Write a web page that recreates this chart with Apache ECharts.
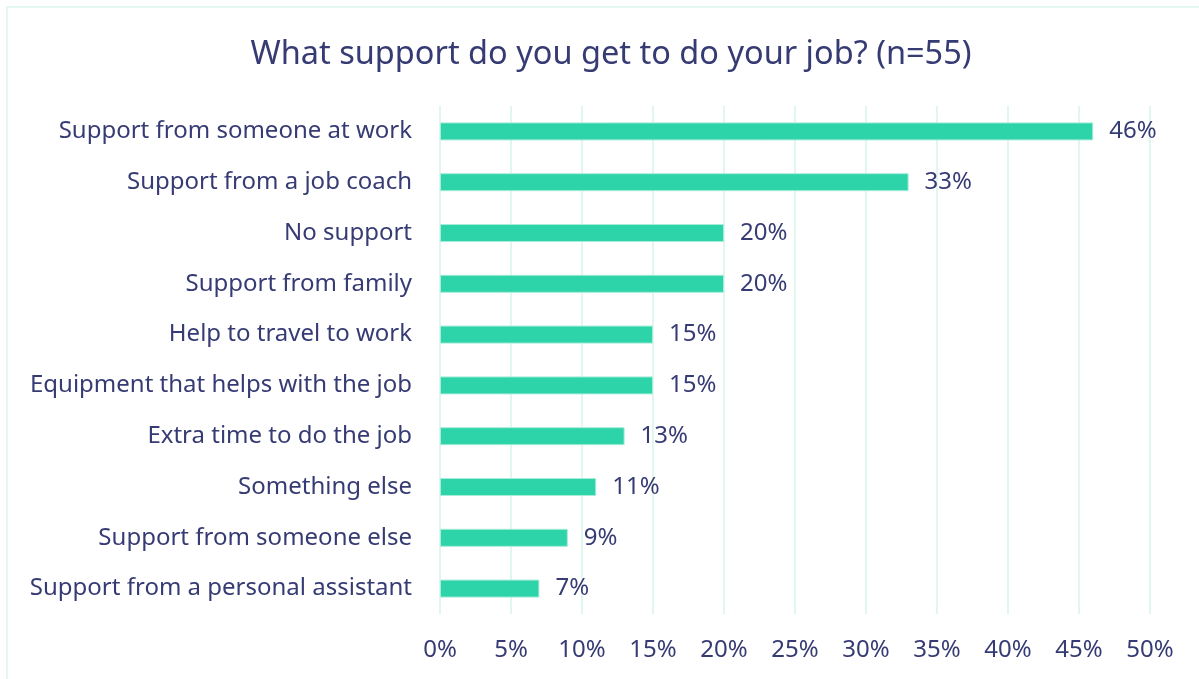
<!DOCTYPE html>
<html>
<head>
<meta charset="utf-8">
<title>What support do you get to do your job?</title>
<script src="https://cdn.jsdelivr.net/npm/echarts@6/dist/echarts.min.js"></script>
<style>
  html, body { margin: 0; padding: 0; background: #ffffff; }
  #chart { width: 1199px; height: 679px; }
</style>
</head>
<body>
<div id="chart"></div>
<script>
// Survey answers, listed from most to least common
const categories = [
  'Support from someone at work',
  'Support from a job coach',
  'No support',
  'Support from family',
  'Help to travel to work',
  'Equipment that helps with the job',
  'Extra time to do the job',
  'Something else',
  'Support from someone else',
  'Support from a personal assistant'
];
// Share of respondents (%)
const shares = [46, 33, 20, 20, 15, 15, 13, 11, 9, 7];
// Percentage axis ticks
const axisMin = 0;
const axisMax = 50;
const axisStep = 5;

const textColor = '#363b74';
const fontFamily = '"Noto Sans", "Open Sans", sans-serif';

const chart = echarts.init(document.getElementById('chart'), null, { renderer: 'canvas' });

chart.setOption({
  backgroundColor: '#ffffff',
  animation: false,
  title: {
    text: 'What support do you get to do your job? (n=55)',
    left: 606,
    textAlign: 'center',
    top: 33,
    textStyle: {
      color: textColor,
      fontFamily: fontFamily,
      fontSize: 32.5,
      fontWeight: 'normal'
    }
  },
  graphic: [{
    type: 'rect',
    shape: { x: 7, y: 7, width: 1205, height: 690 },
    style: { fill: null, stroke: '#e2f8f1', lineWidth: 2 },
    silent: true,
    z: -1
  }],
  grid: {
    left: 440,
    right: 49,
    top: 106,
    bottom: 65,
    containLabel: false
  },
  xAxis: {
    type: 'value',
    min: axisMin,
    max: axisMax,
    interval: axisStep,
    axisLine: { show: false },
    axisTick: { show: false },
    splitLine: { show: true, lineStyle: { color: '#e0f7f0', width: 2 } },
    axisLabel: {
      formatter: '{value}%',
      color: textColor,
      fontFamily: fontFamily,
      fontSize: 24,
      margin: 24
    }
  },
  yAxis: {
    type: 'category',
    data: categories,
    inverse: true,
    axisLine: { show: false },
    axisTick: { show: false },
    splitLine: { show: false },
    axisLabel: {
      color: textColor,
      fontFamily: fontFamily,
      fontSize: 24,
      margin: 28
    }
  },
  series: [{
    type: 'bar',
    data: shares,
    barWidth: 18,
    itemStyle: {
      color: '#2dd3a9',
      borderColor: '#a6ecd8',
      borderWidth: 1
    },
    label: {
      show: true,
      position: 'right',
      distance: 16,
      formatter: '{c}%',
      color: textColor,
      fontFamily: fontFamily,
      fontSize: 24
    }
  }]
});
</script>
</body>
</html>
